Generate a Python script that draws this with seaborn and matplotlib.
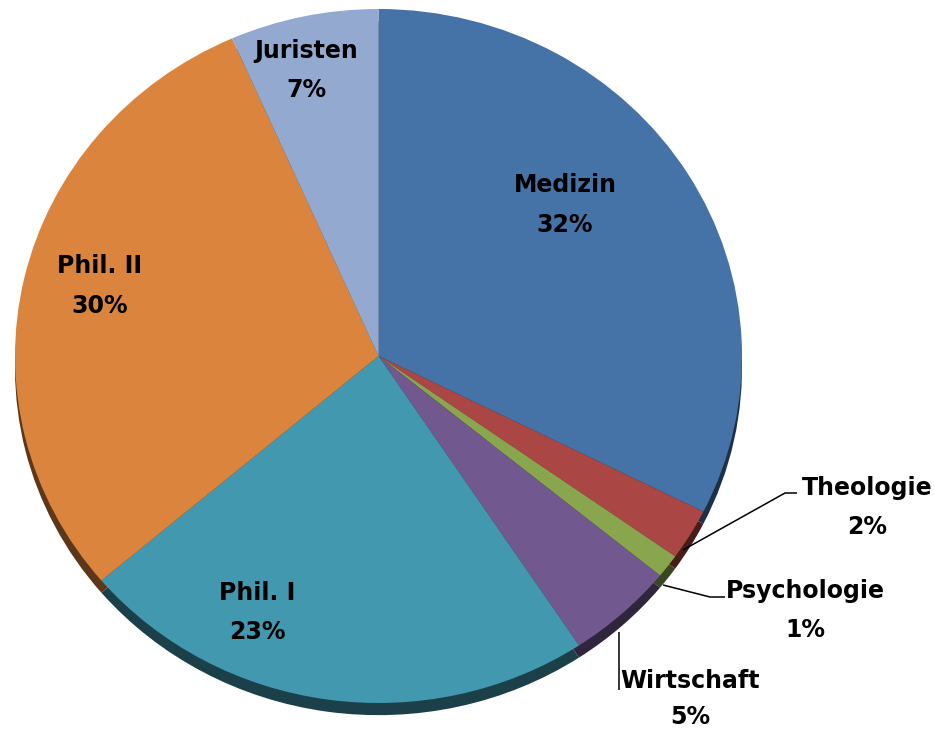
import numpy as np
import matplotlib
matplotlib.use("Agg")
import matplotlib.pyplot as plt
import seaborn as sns
from matplotlib.colors import to_rgb

# ---- data ----
categories = ["Medizin", "Theologie", "Psychologie", "Wirtschaft", "Phil. I", "Phil. II", "Juristen"]
shares = [32.4, 2.4, 1.1, 4.8, 23.1, 29.6, 6.6]

# ---- styles / positions ----
colors = ["#4572A7", "#AA4643", "#89A54E", "#71588F", "#4198AF", "#DB843D", "#93A9CF"]
# label anchor (x centre, baseline of first line, gap to second line) in pixels from top-left
label_px = [(565, 192, 40), (867, 495, 39), (805, 598, 39), (690, 688, 36),
            (257, 600, 39), (100, 273, 40), (306, 58, 39)]
leaders_px = {
    "Theologie": [(683, 550), (785, 493), (797, 493)],
    "Psychologie": [(663, 585), (710, 597), (725, 597)],
    "Wirtschaft": [(619, 632), (619, 690)],
}

W, H = 935, 732
CX, CY, RX, RY = 378.5, 356.0, 363.5, 347.0


def px(x, y):
    return ((x - CX) / RX, (CY - y) / RY)


sns.set_theme(style="white")
plt.rcParams["font.family"] = ["DejaVu Sans"]

fig = plt.figure(figsize=(W / 100, H / 100), dpi=100)
ax = fig.add_axes([0, 0, 1, 1])

palette = sns.color_palette(colors)
dark = [tuple(c * 0.42 for c in to_rgb(col)) for col in palette]

# 3D edge (darker copy slightly below)
ax.pie(shares, colors=dark, startangle=90, counterclock=False,
       center=(0, -0.035), radius=1, wedgeprops=dict(linewidth=0))
# top face
ax.pie(shares, colors=palette, startangle=90, counterclock=False,
       center=(0, 0), radius=1, wedgeprops=dict(linewidth=0.3, edgecolor="none"))

ax.set_aspect("auto")
x0, y0 = px(0, H)
x1, y1 = px(W, 0)
ax.set_xlim(x0, x1)
ax.set_ylim(y0, y1)
ax.axis("off")

for cat, val, (lx, ly, gap) in zip(categories, shares, label_px):
    tx, ty = px(lx, ly)
    ax.text(tx, ty, cat, ha="center", va="baseline", fontsize=17,
            fontweight="bold", color="black")
    tx2, ty2 = px(lx, ly + gap)
    ax.text(tx2, ty2, f"{round(val)}%", ha="center", va="baseline", fontsize=17,
            fontweight="bold", color="black")

for name, pts in leaders_px.items():
    xs, ys = zip(*[px(a, b) for a, b in pts])
    ax.plot(xs, ys, color="black", linewidth=1.1, solid_capstyle="butt")

fig.savefig("out.png", dpi=100, facecolor="white")
